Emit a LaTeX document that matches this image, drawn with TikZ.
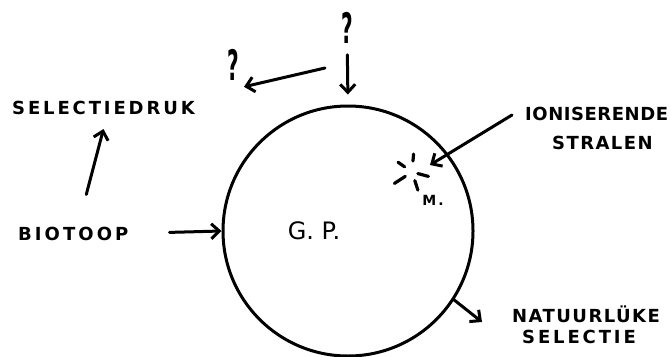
\documentclass[tikz,border=0pt]{standalone}
\usepackage{fontspec}
\setsansfont{DejaVu Sans}
\newfontfamily\handfont{DejaVu Sans}
\usetikzlibrary{arrows.meta,positioning,calc}
\newcommand\handsize[1]{\handfont\addfontfeature{LetterSpace=#1}\bfseries\fontsize{18}{20}\selectfont}
\tikzset{
  handlabel/.style={font=\handsize{#1},inner sep=0pt,anchor=west},
  handlabel/.default=17,
  questmark/.style={font=\sffamily\bfseries\fontsize{20}{22}\selectfont,inner sep=0pt},
  handarrow/.style={-{Straight Barb[length=8pt,width=15pt,line width=3pt]},line width=3pt,line cap=round},
  pool/.style={draw,circle,line width=3pt,minimum size=250pt,inner sep=0pt},
  starray/.style={line width=3.2pt,line cap=round}
}
\begin{document}
\begin{tikzpicture}[x=1pt,y=1pt]
\useasboundingbox (0,0) rectangle (671,-356);
% gene pool
\node[pool] (gp) at (348,-231) {};
\node[font=\sffamily\fontsize{24}{26}\selectfont,inner sep=0pt] (gptext) at (314,-231) {G. P.};
% labels
\node[handlabel=16] (selectiedruk) at (12,-108) {SELECTIEDRUK};
\node[handlabel=17] (biotoop) at (18,-233.5) {BIOTOOP};
\node[handlabel=3] (ion) at (525,-114) {IONISERENDE};
\node[handlabel=8] (stralen) at (552,-142.5) {STRALEN};
\node[handlabel=8] (natuur) at (512,-314) {NATUURLÜKE};
\node[handlabel=16] (selectie) at (522,-337) {SELECTIE};
\node[questmark] (qtop) at (347,-28) {\scalebox{1}[2.1]{?}};
\node[questmark] (qleft) at (233,-65) {\scalebox{1}[2.1]{?}};
\node[font=\handfont\addfontfeature{LetterSpace=15}\bfseries\fontsize{14}{15}\selectfont,inner sep=0pt] (mut) at (433,-200) {M.};
% mutation mark
\coordinate (hit) at (412,-172);
\foreach \ang/\ra/\rb in {145/17/9, 85/18/11, 213/21/8, -15/6/17, -72/9/19}
  \draw[starray] ($(hit)+(\ang:\ra)$) -- ($(hit)+(\ang:\rb)$);
\coordinate (split) at (325,-68);
% arrows
\draw[handarrow,shorten <=11pt,shorten >=10pt] (qtop) -- (gp.north);
\draw[handarrow] (split) -- ($(qleft.south east)+(5,-6)$);
\draw[handarrow] ($(biotoop.north)+(13,32)$) -- ($(selectiedruk.south)+(0,-14)$);
\draw[handarrow,shorten <=41pt] (biotoop.east) -- (gp.west);
\draw[handarrow] ($(ion.west)+(-13,-1)$) -- ($(hit)+(18,7)$);
\draw[handarrow] (gp.-33) -- ($(natuur.west)+(-30,-8)$);
\end{tikzpicture}
\end{document}
